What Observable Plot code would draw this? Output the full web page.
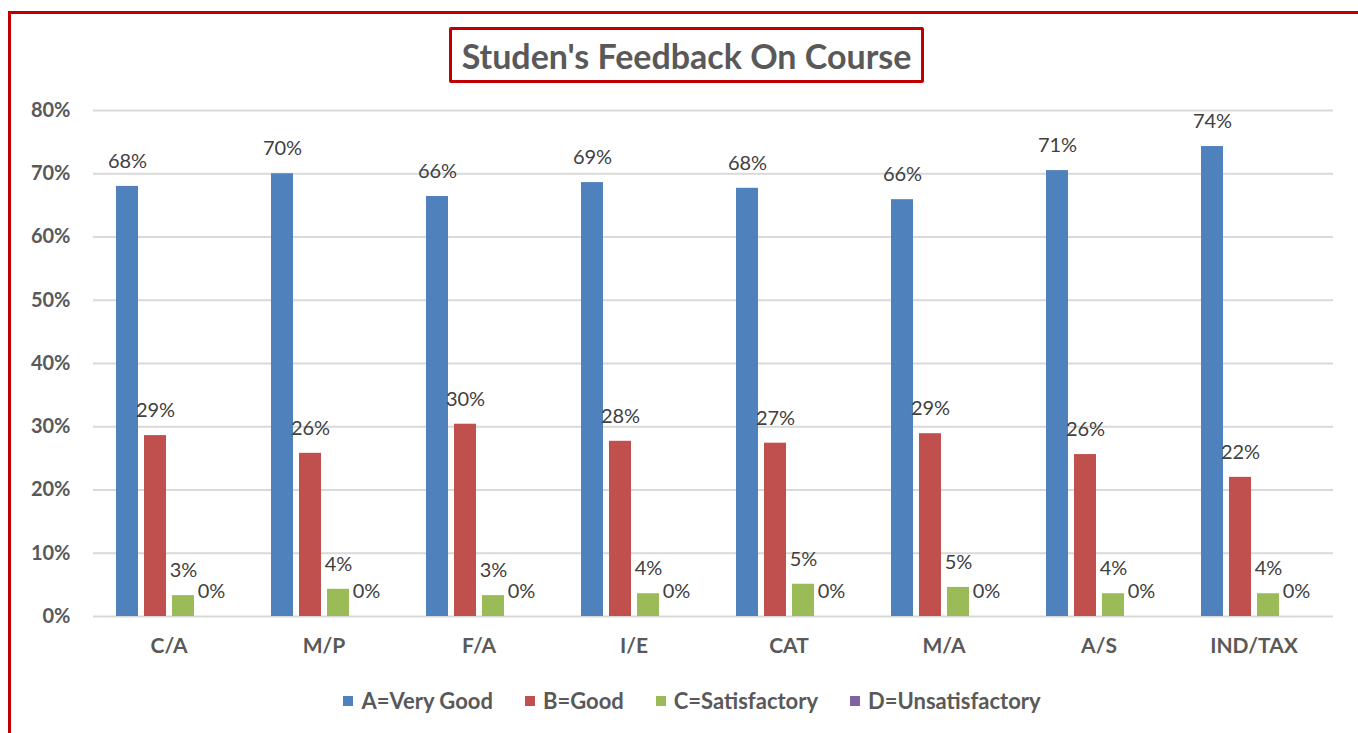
<!DOCTYPE html>
<html>
<head>
<meta charset="utf-8">
<script src="https://cdn.jsdelivr.net/npm/d3@7"></script>
<script src="https://cdn.jsdelivr.net/npm/@observablehq/plot@0.6"></script>
<style>
  html, body { margin: 0; padding: 0; background: #fff; overflow: hidden; }
  #wrap { position: relative; width: 1358px; height: 733px; overflow: hidden; font-family: Lato, "Open Sans", sans-serif; }
  #frame { position: absolute; left: 8px; top: 11px; width: 1500px; height: 900px; border-left: 3px solid #c00000; border-top: 3px solid #c00000; box-sizing: border-box; }
  #title { position: absolute; left: 449px; top: 27px; width: 475px; height: 56px; box-sizing: border-box; border: 3px solid #c00000; border-radius: 2px; display: flex; align-items: center; justify-content: center; font-weight: bold; font-size: 34px; color: #595959; white-space: nowrap; }
  #chart { position: absolute; left: 0; top: 0; }
  #legend { position: absolute; left: 13px; top: 687px; width: 1358px; display: flex; justify-content: center; gap: 32px; font-weight: bold; font-size: 22px; color: #595959; }
  .item { display: flex; align-items: center; gap: 8px; }
  .sw { width: 10px; height: 10px; display: inline-block; }
</style>
</head>
<body>
<div id="wrap">
  <div id="frame"></div>
  <div id="chart"></div>
  <div id="title">Studen's Feedback On Course</div>
  <div id="legend"></div>
</div>
<script>
const categories = ["C/A", "M/P", "F/A", "I/E", "CAT", "M/A", "A/S", "IND/TAX"];
const seriesNames = ["A=Very Good", "B=Good", "C=Satisfactory", "D=Unsatisfactory"];
const seriesColors = ["#4f81bd", "#c0504d", "#9bbb59", "#8064a2"];
const veryGood = [68.0, 70.0, 66.4, 68.6, 67.7, 65.9, 70.5, 74.3];
const good = [28.6, 25.8, 30.4, 27.7, 27.4, 28.9, 25.6, 22.0];
const satisfactory = [3.3, 4.3, 3.3, 3.6, 5.1, 4.6, 3.6, 3.6];
const unsatisfactory = [0, 0, 0, 0, 0, 0, 0, 0];
const yTicks = [0, 10, 20, 30, 40, 50, 60, 70, 80];

const seriesValues = [veryGood, good, satisfactory, unsatisfactory];
const rows = [];
categories.forEach((c, i) => {
  seriesNames.forEach((s, j) => {
    rows.push({category: c, series: s, value: seriesValues[j][i] / 100});
  });
});

const chart = Plot.plot({
  width: 1358,
  height: 670,
  marginTop: 110,
  marginBottom: 54,
  marginLeft: 90,
  marginRight: 22,
  style: {fontFamily: "Lato, 'Open Sans', sans-serif", background: "transparent"},
  fx: {domain: categories, padding: 0, label: null},
  x: {domain: seriesNames, paddingInner: 0.23, paddingOuter: 0.8, axis: null},
  y: {domain: [0, 0.8], label: null},
  color: {domain: seriesNames, range: seriesColors},
  marks: [
    Plot.gridY(yTicks.map(d => d / 100), {stroke: "#d9d9d9", strokeOpacity: 1, strokeWidth: 2}),
    Plot.barY(rows, {fx: "category", x: "series", y: "value", fill: "series", dx: -2}),
    Plot.text(rows, {fx: "category", x: "series", y: "value", text: d => Math.round(d.value * 100) + "%", dy: -25, dx: -2, fontSize: 20, fill: "#404040"}),
    Plot.axisY(yTicks.map(d => d / 100), {tickSize: 0, tickPadding: 23, tickFormat: d => Math.round(d * 100) + "%", fontSize: 20, fontWeight: "bold", fill: "#595959", label: null}),
    Plot.axisFx({anchor: "bottom", tickSize: 0, tickPadding: 22, fontSize: 21, fontWeight: "bold", fill: "#595959", label: null, dx: -2})
  ]
});
document.getElementById("chart").appendChild(chart);

const legend = document.getElementById("legend");
seriesNames.forEach((s, i) => {
  const item = document.createElement("div");
  item.className = "item";
  const sw = document.createElement("span");
  sw.className = "sw";
  sw.style.background = seriesColors[i];
  const t = document.createElement("span");
  t.textContent = s;
  item.appendChild(sw);
  item.appendChild(t);
  legend.appendChild(item);
});
</script>
</body>
</html>
